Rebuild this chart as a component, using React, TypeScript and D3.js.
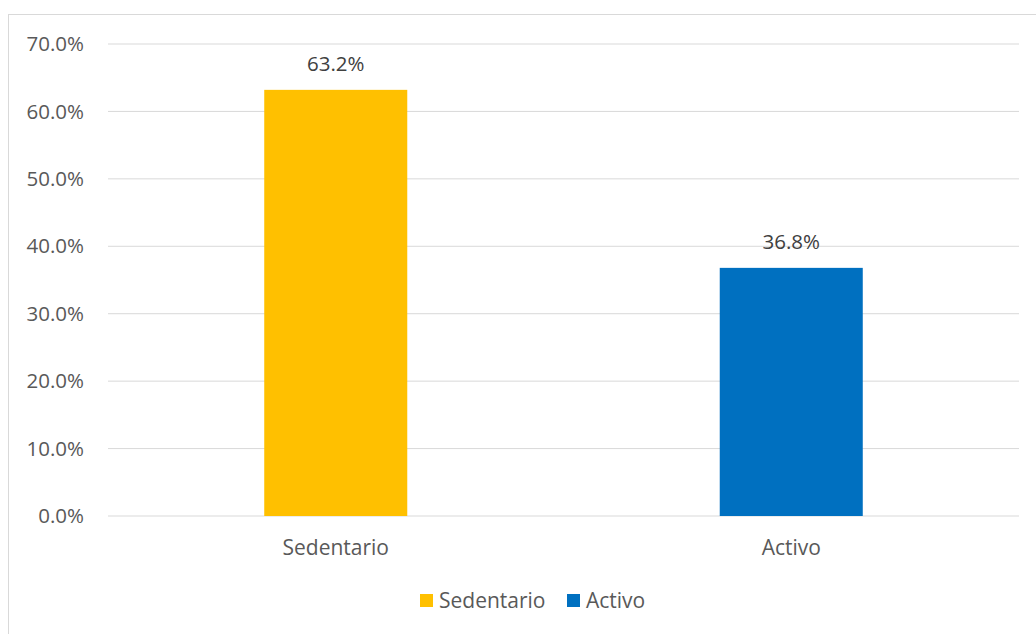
import React from "react";
import * as d3 from "d3";

const categories = ["Sedentario", "Activo"];
const values = [63.2, 36.8];
const colors = ["#FFC000", "#0070C0"];
const yTicks = [0, 10, 20, 30, 40, 50, 60, 70];

export default function App() {
  const W = 1036, H = 634;
  const left = 108, right = 1019, top = 44, bottom = 516;
  const x = d3.scaleBand<string>().domain(categories).range([left, right]).padding(0);
  const y = d3.scaleLinear().domain([0, 70]).range([bottom, top]);
  const bw = x.bandwidth() * 0.314;
  const font = "'Open Sans', sans-serif";
  const legend = [
    { name: categories[0], color: colors[0], x: 420 },
    { name: categories[1], color: colors[1], x: 567 },
  ];
  return (
    <svg width={W} height={H} style={{ position: "absolute", left: 0, top: 0 }} fontFamily={font}>
      <rect x={0} y={0} width={W} height={H} fill="#fff" />
      <rect x={8.5} y={14.5} width={W + 10} height={H + 10} fill="none" stroke="#d9d9d9" strokeWidth={1} />
      {yTicks.map((t) => (
        <g key={t}>
          <line x1={left} x2={right} y1={y(t)} y2={y(t)} stroke="#d9d9d9" strokeWidth={1} />
          <text x={84} y={y(t)} dy="0.35em" textAnchor="end" fontSize={20.5} fill="#595959">
            {t.toFixed(1) + "%"}
          </text>
        </g>
      ))}
      {categories.map((c, i) => {
        const cx = (x(c) as number) + x.bandwidth() / 2;
        return (
          <g key={c}>
            <rect x={cx - bw / 2} y={y(values[i])} width={bw} height={y(0) - y(values[i])} fill={colors[i]} />
            <text x={cx} y={y(values[i]) - 26} dy="0.35em" textAnchor="middle" fontSize={20.5} fill="#404040">
              {values[i].toFixed(1) + "%"}
            </text>
            <text x={cx} y={548} dy="0.35em" textAnchor="middle" fontSize={21} fill="#595959">
              {c}
            </text>
          </g>
        );
      })}
      {legend.map((l) => (
        <g key={l.name}>
          <rect x={l.x} y={594} width={13} height={13} fill={l.color} />
          <text x={l.x + 19} y={601} dy="0.35em" fontSize={21} fill="#595959">
            {l.name}
          </text>
        </g>
      ))}
    </svg>
  );
}
